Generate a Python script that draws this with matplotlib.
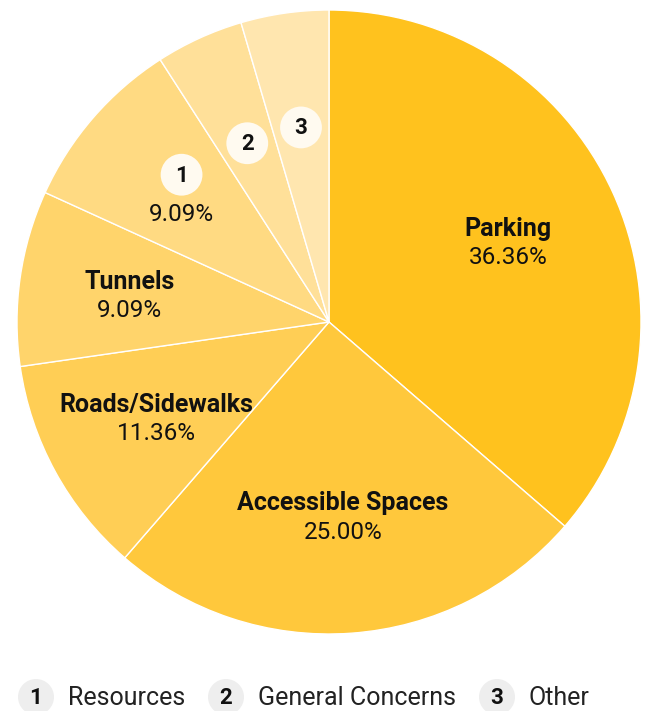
"""Pie chart of accessibility feedback categories."""
import matplotlib
matplotlib.use("Agg")
import matplotlib.pyplot as plt
from matplotlib.patches import Circle
import numpy as np

plt.rcParams["font.family"] = ["Roboto", "DejaVu Sans"]

categories = ["Parking", "Accessible Spaces", "Roads/Sidewalks", "Tunnels",
              "Resources", "General Concerns", "Other"]
shares = [36.36, 25.00, 11.36, 9.09, 9.09, 4.55, 4.55]
pct_labels = ["36.36%", "25.00%", "11.36%", "9.09%", "9.09%", "", ""]
badges = ["", "", "", "", "1", "2", "3"]
colors = ["#FFC21E", "#FFC83C", "#FFCE55", "#FFD46B", "#FFDA82",
          "#FFE099", "#FFE6AF"]

fig = plt.figure(figsize=(6.49, 7.11), dpi=100)
ax = fig.add_axes([17 / 649, 77 / 711, 624 / 649, 624 / 711])
wedges, _ = ax.pie(shares, colors=colors, startangle=90, counterclock=False,
                   radius=1.0,
                   wedgeprops={"edgecolor": "white", "linewidth": 1.0})
ax.set_xlim(-1, 1)
ax.set_ylim(-1, 1)
ax.set_aspect("equal")
ax.axis("off")

# -- per-slice label placement (label group centred on the slice mid-angle) --
label_r = [0.63, 0.62, 0.63, 0.645, 0.625, 0.63, 0.63]
for i, w in enumerate(wedges):
    mid = np.deg2rad((w.theta1 + w.theta2) / 2)
    x, y = label_r[i] * np.cos(mid), label_r[i] * np.sin(mid)
    if badges[i] == "":
        ax.text(x, y + 0.037, categories[i], ha="center", va="center",
                fontsize=18, fontweight="bold", color="#111111")
        ax.text(x, y - 0.055, pct_labels[i], ha="center", va="center",
                fontsize=17.5, color="#111111")
    else:
        by = y + 0.063 if pct_labels[i] else y
        ax.add_patch(Circle((x, by), 0.067, facecolor="#FFFAF0",
                            edgecolor="none", zorder=3))
        ax.text(x, by - 0.003, badges[i], ha="center", va="center",
                fontsize=16, fontweight="bold", color="#111111", zorder=4)
        if pct_labels[i]:
            ax.text(x, y - 0.065, pct_labels[i], ha="center", va="center",
                    fontsize=17.5, color="#111111")

# -- legend row for the numbered slices --
lax = fig.add_axes([0, 0, 1, 60 / 711])
lax.set_xlim(0, 649)
lax.set_ylim(0, 60)
lax.set_aspect("equal")
lax.axis("off")
legend_x = [36, 226, 497]
for bx, i in zip(legend_x, [4, 5, 6]):
    lax.add_patch(Circle((bx, 14), 18, facecolor="#EEEEEE", edgecolor="none",
                         clip_on=False))
    lax.text(bx, 13, badges[i], ha="center", va="center", fontsize=16,
             fontweight="bold", color="#111111")
    lax.text(bx + 32, 13, categories[i], ha="left", va="center",
             fontsize=18, color="#222222")

fig.savefig("out.png", dpi=100)
plt.close(fig)
